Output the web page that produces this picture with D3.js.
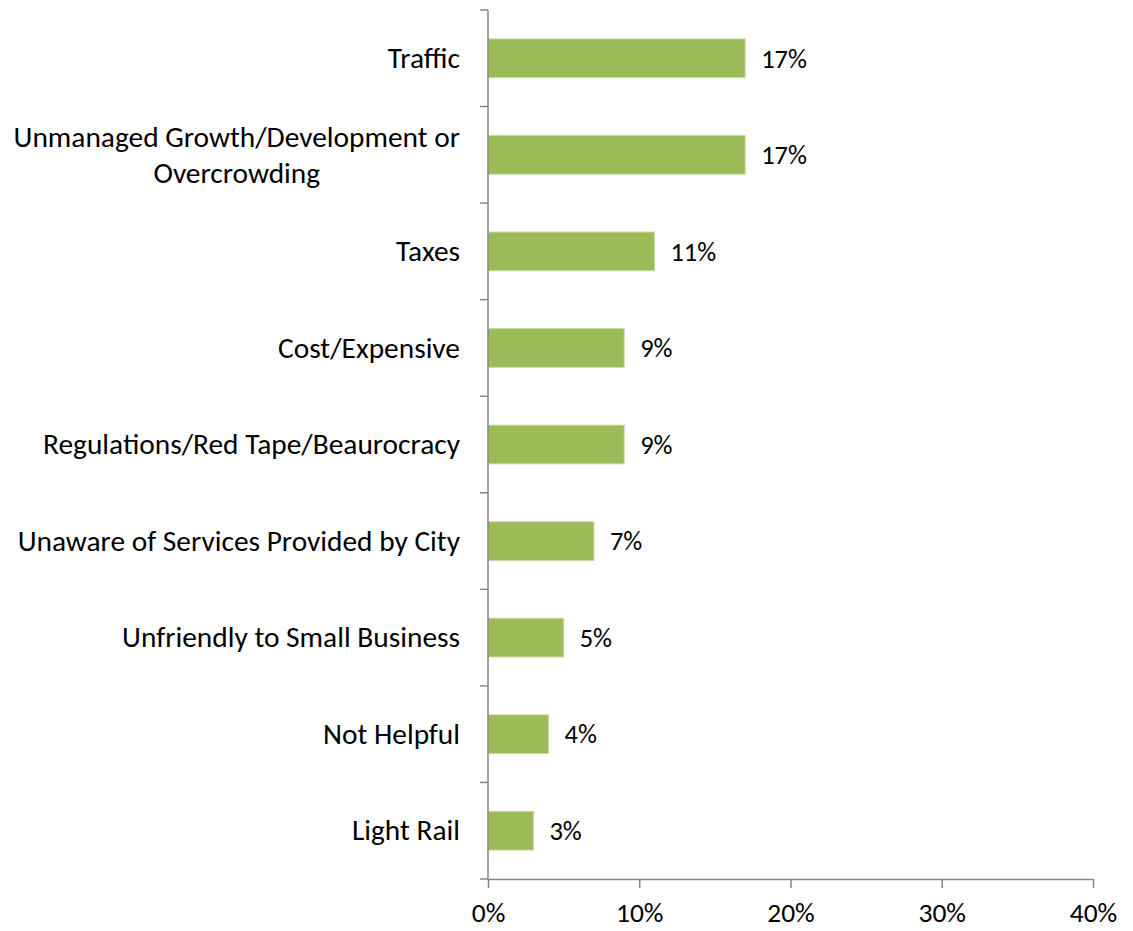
<!DOCTYPE html>
<html><head><meta charset="utf-8">
<script src="https://cdn.jsdelivr.net/npm/d3@7"></script>
<style>
html,body{margin:0;padding:0;background:#fff;}
text{font-family:Carlito, Calibri, "Open Sans", sans-serif;fill:#000;}
</style></head>
<body>
<svg id="chart" width="1133" height="931"></svg>
<script>
const categories = [
  ["Traffic"],
  ["Unmanaged Growth/Development or", "Overcrowding"],
  ["Taxes"],
  ["Cost/Expensive"],
  ["Regulations/Red Tape/Beaurocracy"],
  ["Unaware of Services Provided by City"],
  ["Unfriendly to Small Business"],
  ["Not Helpful"],
  ["Light Rail"]
];
const values = [17, 17, 11, 9, 9, 7, 5, 4, 3];
const xTicks = [0, 10, 20, 30, 40];

(function () {
const svg = d3.select("#chart");
const mLeft = 488, mRight = 1093, mTop = 10, mBottom = 879;
const keys = categories.map((c, i) => i);

const x = d3.scaleLinear().domain([0, 40]).range([mLeft, mRight]);
const y = d3.scaleBand().domain(keys).range([mTop, mBottom]).paddingInner(0.6).paddingOuter(0.3);
const yTicks = d3.scaleBand().domain(keys).range([mTop, mBottom]);

const axisColor = "#868686";

svg.selectAll("rect.bar").data(values).enter().append("rect")
  .attr("class", "bar")
  .attr("x", x(0))
  .attr("y", (d, i) => y(i))
  .attr("width", d => x(d) - x(0))
  .attr("height", y.bandwidth())
  .attr("fill", "#9BBB59")
  .attr("stroke", "#c3d69b")
  .attr("stroke-width", 1);

svg.selectAll("text.val").data(values).enter().append("text")
  .attr("class", "val")
  .attr("x", d => x(d) + 16)
  .attr("y", (d, i) => y(i) + y.bandwidth() / 2)
  .attr("dy", "0.35em")
  .attr("font-size", 26.5)
  .text(d => d + "%");

svg.append("line").attr("x1", mLeft).attr("x2", mLeft).attr("y1", mTop).attr("y2", mBottom)
  .attr("stroke", axisColor).attr("stroke-width", 1.5);
const boundaries = keys.map(k => yTicks(k)).concat([mBottom]);
svg.selectAll("line.ytick").data(boundaries).enter().append("line")
  .attr("x1", mLeft - 8).attr("x2", mLeft)
  .attr("y1", d => d).attr("y2", d => d)
  .attr("stroke", axisColor).attr("stroke-width", 1.5);

categories.forEach((lines, i) => {
  const cy = y(i) + y.bandwidth() / 2;
  const lh = 36;
  const t = svg.append("text")
    .attr("text-anchor", lines.length > 1 ? "middle" : "end")
    .attr("font-size", 29.4);
  lines.forEach((ln, j) => {
    t.append("tspan")
      .attr("x", mLeft - 28)
      .attr("y", cy + (j - (lines.length - 1) / 2) * lh)
      .attr("dy", "0.33em")
      .text(ln);
  });
  if (lines.length > 1) {
    const w = d3.max(t.selectAll("tspan").nodes(), n => n.getComputedTextLength());
    t.selectAll("tspan").attr("x", mLeft - 28 - w / 2);
  }
});

const xAxis = d3.axisBottom(x).tickValues(xTicks).tickSize(9).tickFormat(d => d + "%");
const gx = svg.append("g").attr("transform", `translate(0,${mBottom})`).call(xAxis);
gx.select(".domain").attr("stroke", axisColor).attr("stroke-width", 1.5).attr("d", `M${mLeft},0.5H${mRight}`);
gx.selectAll(".tick line").attr("stroke", axisColor).attr("stroke-width", 1.5);
gx.selectAll(".tick text").attr("font-size", 27.5).attr("fill", "#000").attr("y", 23)
  .attr("font-family", "Carlito, Calibri, 'Open Sans', sans-serif");
})();
</script>
</body></html>
